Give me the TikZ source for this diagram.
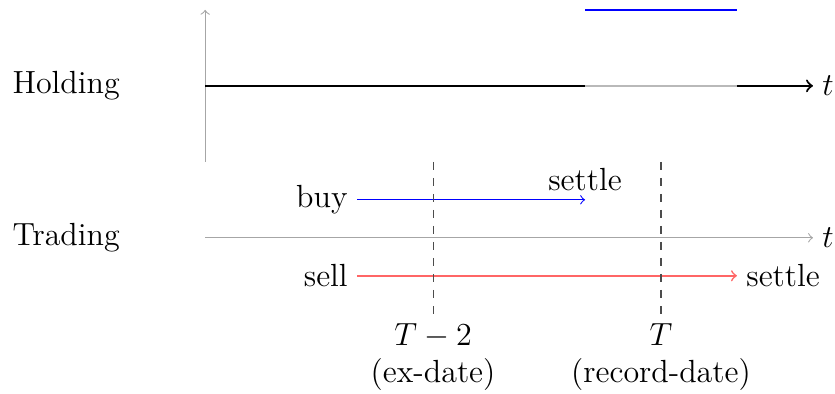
\documentclass[tikz,border=0pt]{standalone}
\begin{document}
\begin{tikzpicture}[
  axis/.style={gray!70, ->},
  holdline/.style={thick},
  dashline/.style={dashed, black!70},
  lbl/.style={font=\large, inner sep=0.333em}
]
\useasboundingbox (-2.70,-2.05) rectangle (8.29,3.13);
% coordinates
\coordinate (vb) at (0,1);
\coordinate (vt) at (0,3);
\coordinate (h0) at (0,2);
\coordinate (h5) at (5,2);
\coordinate (h7) at (7,2);
\coordinate (h8) at (8,2);
\coordinate (b5) at (5,3);
\coordinate (b7) at (7,3);
\coordinate (t0) at (0,0);
\coordinate (t8) at (8,0);
\coordinate (buyS) at (2,0.5);
\coordinate (buyE) at (5,0.5);
\coordinate (sellS) at (2,-0.5);
\coordinate (sellE) at (7,-0.5);
\coordinate (d1t) at (3,1);
\coordinate (d1b) at (3,-1);
\coordinate (d2t) at (6,1);
\coordinate (d2b) at (6,-1);
% vertical axis
\draw[axis] (vb) -- (vt);
% holding
\draw[holdline] (h0) -- (h5);
\draw[holdline, gray!55] (h5) -- (h7);
\draw[holdline, ->] (h7) -- (h8);
\draw[holdline, blue] (b5) -- (b7);
\node[lbl, right] (ht) at (h8) {$t$};
\node[lbl, left] (hold) at (-1,2) {Holding};
% trading
\draw[axis] (t0) -- (t8);
\node[lbl, right] (tt) at (t8) {$t$};
\node[lbl, left] (trad) at (-1,0) {Trading};
\draw[blue, ->] (buyS) -- (buyE);
\node[lbl, left] (buy) at (buyS) {buy};
\node[lbl, above] (bset) at (buyE) {settle};
\draw[red!60, semithick, ->] (sellS) -- (sellE);
\node[lbl, left] (sell) at (sellS) {sell};
\node[lbl, right] (sset) at (sellE) {settle};
% dashed
\draw[dashline] (d1t) -- (d1b);
\draw[dashline] (d2t) -- (d2b);
\node[lbl, below, align=center] (exd) at (d1b) {$T-2$\\(ex-date)};
\node[lbl, below, align=center] (recd) at (d2b) {$T$\\(record-date)};
\end{tikzpicture}
\end{document}
